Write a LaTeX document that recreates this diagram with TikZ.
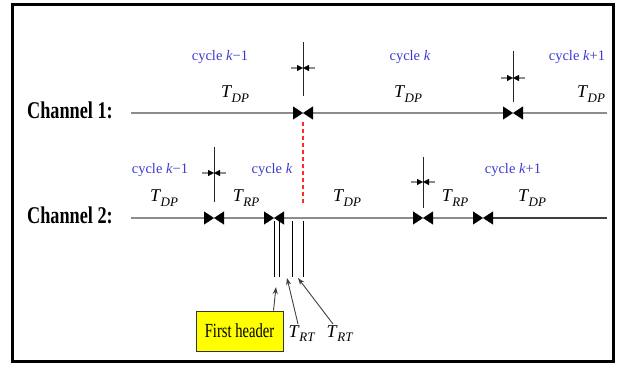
\documentclass[tikz,border=0pt]{standalone}
\usepackage{fontspec}
\usepackage{graphicx}
\setmainfont{Liberation Serif}
\usetikzlibrary{arrows.meta}
\definecolor{cycblue}{HTML}{3B3BD0}
\definecolor{chgray}{HTML}{8C8C8C}
\definecolor{chdark}{HTML}{404040}
\definecolor{syncred}{HTML}{FF2A2A}
\definecolor{hdryellow}{HTML}{FFFF00}
\newcommand{\Tsub}[1]{\textit{T}\kern-0.5pt\raisebox{-4.5pt}{\fontsize{13}{13}\selectfont\textit{#1}}}
\newcommand{\narrow}[2]{\scalebox{#1}[1]{#2}}

\begin{document}
\begin{tikzpicture}[
    x=1pt, y=-1pt,
    edgetip/.tip={Triangle[length=10pt, width=13pt, line width=0.4pt, black]},
    ticktip/.tip={Triangle[length=6pt, width=6pt, line width=0.3pt, black]},
    chline/.style={chgray, line width=2pt},
    cursor/.style={black!85, line width=1pt},
    tick/.style={chgray, line width=1.5pt, -{ticktip}},
    syncline/.style={draw=syncred, line width=1.2pt, dash pattern=on 4pt off 3pt},
    hdrline/.style={black, line width=1pt},
    ptr/.style={black!75, line width=0.9pt, -{Stealth[length=7pt, width=5pt]}},
    chlabel/.style={font=\bfseries\fontsize{24}{24}\selectfont, inner sep=0pt, anchor=base east},
    cyc/.style={text=cycblue, font=\fontsize{14.5}{14.5}\selectfont, inner sep=0pt, anchor=base},
    tlabel/.style={font=\fontsize{18}{18}\selectfont, inner sep=1pt, anchor=base},
    hdrbox/.style={rectangle, draw=black!80, line width=1pt, fill=hdryellow,
      font=\fontsize{20}{20}\selectfont, minimum width=87pt, minimum height=40pt, inner sep=0pt},
  ]

  \useasboundingbox (0,0) rectangle (619,367);
  \draw[line width=3pt] (12.5,4.5) rectangle (613,361.5);

  % Channel 1
  \node[chlabel] (ch1) at (113,118) {\narrow{0.76}{Channel 1:}};
  \coordinate (c1start) at (131,113);
  \coordinate (c1a) at (303,113);
  \coordinate (c1b) at (513,113);
  \coordinate (c1end) at (607,113);
  \draw[chline, -{edgetip}] (c1start) -- (c1a);
  \draw[chline, {edgetip}-{edgetip}] (c1a) -- (c1b);
  \draw[chline, {edgetip}-] (c1b) -- (c1end);

  \node[cyc] (cyc1a) at (220,60.5) {cycle \textit{k}−1};
  \node[cyc] (cyc1b) at (410,60.5) {cycle \textit{k}};
  \node[cyc] (cyc1c) at (577,60.5) {cycle \textit{k}+1};
  \node[tlabel] (dp1a) at (235,97.5) {\Tsub{DP}};
  \node[tlabel] (dp1b) at (408,97.5) {\Tsub{DP}};
  \node[tlabel] (dp1c) at (591,97.5) {\Tsub{DP}};

  % Channel 2
  \node[chlabel] (ch2) at (113,223) {\narrow{0.76}{Channel 2:}};
  \coordinate (c2start) at (131,218);
  \coordinate (c2a) at (214,218);
  \coordinate (c2b) at (274,218);
  \coordinate (c2c) at (423,218);
  \coordinate (c2d) at (483,218);
  \coordinate (c2end) at (607,218);
  \draw[chline, -{edgetip}] (c2start) -- (c2a);
  \draw[chline, {edgetip}-{edgetip}] (c2a) -- (c2b);
  \draw[chline, {edgetip}-{edgetip}] (c2b) -- (c2c);
  \draw[chline, {edgetip}-{edgetip}] (c2c) -- (c2d);
  \draw[chline, chdark, {edgetip}-] (c2d) -- (c2end);

  \node[cyc] (cyc2a) at (160,173) {cycle \textit{k}−1};
  \node[cyc] (cyc2b) at (272,173) {cycle \textit{k}};
  \node[cyc] (cyc2c) at (513,173) {cycle \textit{k}+1};
  \node[tlabel] (dp2a) at (164,201.5) {\Tsub{DP}};
  \node[tlabel] (rp2a) at (246,201.5) {\Tsub{RP}};
  \node[tlabel] (dp2b) at (347,201.5) {\Tsub{DP}};
  \node[tlabel] (rp2b) at (455,201.5) {\Tsub{RP}};
  \node[tlabel] (dp2c) at (532,201.5) {\Tsub{DP}};

  % Cycle boundaries with offset marks
  \foreach \x/\top/\mid/\bot in {303/42/68/96, 513/51/78/102, 214/147/173/202, 423/157/182/208}{
    \draw[cursor] (\x,\top) -- (\x,\bot);
    \draw[tick] (\x-12,\mid) -- (\x,\mid);
    \draw[tick] (\x+12,\mid) -- (\x,\mid);
  }

  % Sync line
  \coordinate (sync) at (303,205);
  \draw[syncline] ([yshift=-9pt]c1a) -- (sync);

  % Header and retransmissions
  \foreach \x in {274,279,292,303}
    \draw[hdrline] (\x,221) -- (\x,277);
  \coordinate (hdrtip) at (276,287);
  \coordinate (rttip1) at (287,278);
  \coordinate (rttip2) at (298,278);

  \node[hdrbox] (hdr) at (239.5,331) {\narrow{0.73}{First header}};
  \node[tlabel] (rt1) at (302,337) {\Tsub{RT}};
  \node[tlabel] (rt2) at (340,337) {\Tsub{RT}};

  \draw[ptr] ([xshift=-10pt]hdr.north east) -- (hdrtip);
  \draw[ptr] ([xshift=-4pt]rt1.north) -- (rttip1);
  \draw[ptr] ([xshift=-7pt]rt2.north) -- (rttip2);

\end{tikzpicture}
\end{document}
